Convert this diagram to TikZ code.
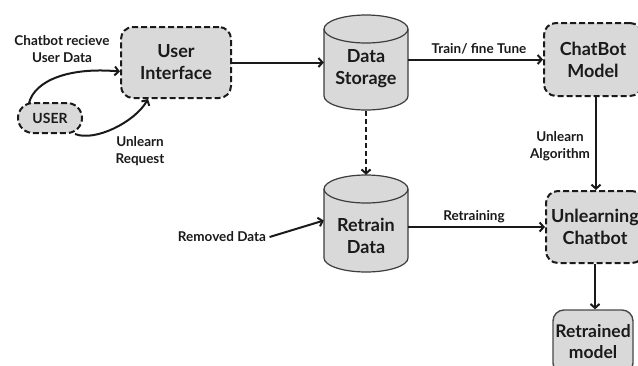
\documentclass[tikz,border=0pt]{standalone}
\usepackage{fontspec}
\setmainfont{Lato}
\usetikzlibrary{arrows.meta}
\definecolor{boxfill}{HTML}{D9D9D9}
\definecolor{ink}{HTML}{1A1A1A}
\begin{document}
\begin{tikzpicture}[x=1pt,y=-1pt,
  dashbox/.style={draw=ink, fill=boxfill, line width=2pt, dash pattern=on 6pt off 3pt,
    rounded corners=12pt, align=center, font=\bfseries\fontsize{18}{22}\selectfont, text=ink, inner sep=0pt},
  solidbox/.style={draw=ink!80, fill=boxfill, line width=1.4pt,
    rounded corners=11pt, align=center, font=\bfseries\fontsize{17.5}{21}\selectfont, text=ink, inner sep=0pt},
  cylbody/.style={minimum width=84pt, minimum height=97pt, inner sep=0pt},
  cylline/.style={draw=ink!85, fill=boxfill, line width=1.2pt},
  bigtext/.style={align=center, font=\bfseries\fontsize{18}{22}\selectfont, text=ink},
  lbl/.style={align=center, font=\bfseries\fontsize{13.5}{17.5}\selectfont, text=ink},
  conn/.style={draw=ink, line width=2pt, -{Straight Barb[length=4pt,width=9pt,line width=2pt]}}
]
\useasboundingbox (0,0) rectangle (638,365);
\clip (0,0) rectangle (638,365);

% boxes
\node[dashbox, minimum width=110pt, minimum height=71pt] (ui) at (176,62.5) {User\\Interface};
\node[dashbox, rounded corners=15pt, minimum width=64pt, minimum height=30pt,
      font=\bfseries\fontsize{14}{16}\selectfont] (user) at (50,118) {USER};
\node[dashbox, minimum width=98pt, minimum height=73pt] (cb) at (593,59.5) {ChatBot\\Model};
\node[dashbox, minimum width=98pt, minimum height=72pt] (ul) at (595,227) {Unlearning\\Chatbot};
\node[solidbox, minimum width=80pt, minimum height=64pt] (rm) at (593,342) {Retrained\\model};

% Data Storage cylinder
\node[cylbody] (ds) at (366,62.5) {};
\path[cylline] (324,29) -- (324,96) arc[start angle=180, end angle=0, x radius=42, y radius=14]
  -- (408,29) arc[start angle=0, end angle=-180, x radius=42, y radius=14] -- cycle;
\draw[draw=ink!85, line width=1.2pt] (324,29) arc[start angle=180, end angle=0, x radius=42, y radius=14];
\node[bigtext] (dst) at (366,69) {Data\\Storage};

% Retrain Data cylinder
\node[cylbody] (rd) at (366,223.5) {};
\path[cylline] (324,189) -- (324,258) arc[start angle=180, end angle=0, x radius=42, y radius=14]
  -- (408,189) arc[start angle=0, end angle=-180, x radius=42, y radius=14] -- cycle;
\draw[draw=ink!85, line width=1.2pt] (324,189) arc[start angle=180, end angle=0, x radius=42, y radius=14];
\node[bigtext] (rdt) at (366,236) {Retrain\\Data};

% labels
\node[lbl] (l1) at (62,49) {Chatbot recieve\\User Data};
\node[lbl] (l2) at (140,151) {Unlearn\\Request};
\node[lbl] (l3) at (479,49) {Train/ fine Tune};
\node[lbl] (l4) at (560,146) {Unlearn\\Algorithm};
\node[lbl] (l5) at (474,217) {Retraining};
\node[lbl] (rmd) at (222,237) {Removed Data};

% connectors
\coordinate (u1) at ([xshift=12pt,yshift=-1pt]user.north west);
\draw[conn] (u1) .. controls (35,80) and (70,67) .. ([yshift=-9pt]ui.west);
\draw[conn] ([xshift=-8pt]user.south east) .. controls (95,142) and (135,122) .. ([xshift=-28pt]ui.south);
\draw[conn] (ui.east) -- (ui.east -| ds.west);
\draw[conn] (cb.west -| ds.east) -- (cb.west);
\draw[conn, dash pattern=on 5pt off 3pt] (ds.south) -- (rd.north);
\draw[conn] (rmd.east) -- ([yshift=3pt]rd.west);
\draw[conn] (ul.west -| rd.east) -- (ul.west);
\draw[conn] ([xshift=3pt]cb.south) -- ([xshift=3pt]cb.south |- ul.north);
\draw[conn] (ul.south) -- (ul.south |- rm.north);
\end{tikzpicture}
\end{document}
